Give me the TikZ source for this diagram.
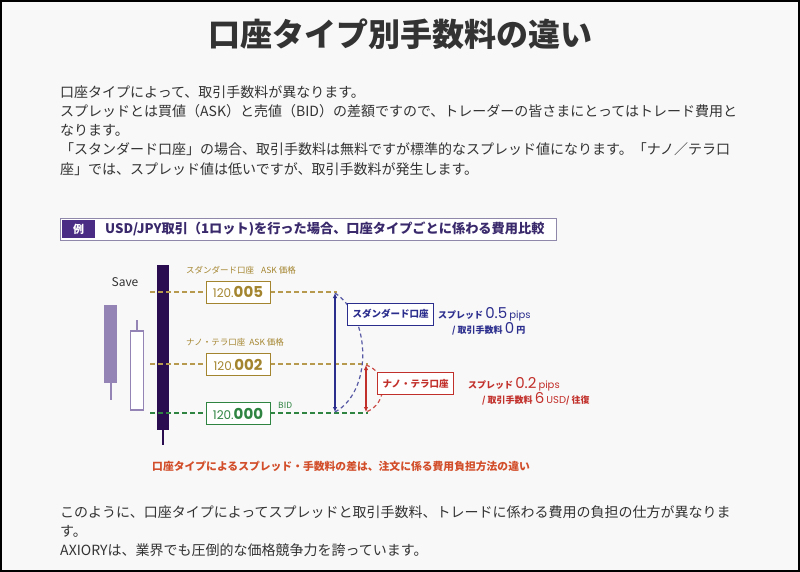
\documentclass[tikz,border=0pt]{standalone}
\usepackage{fontspec}
\setmainfont{Noto Sans CJK JP}
\newfontfamily\numfont{Poppins}
\usetikzlibrary{arrows.meta}
\definecolor{pagebg}{HTML}{F8F8F8}
\definecolor{txt}{HTML}{333333}
\definecolor{hdrbox}{HTML}{4B2C84}
\definecolor{hdrtxt}{HTML}{3A2A6C}
\definecolor{hdrline}{HTML}{8F88AA}
\definecolor{candlel}{HTML}{9483B5}
\definecolor{candled}{HTML}{2A0C50}
\definecolor{askc}{HTML}{A4852F}
\definecolor{askdash}{HTML}{B89A4E}
\definecolor{bidc}{HTML}{2F8442}
\definecolor{stdc}{HTML}{2C2E8E}
\definecolor{nanoc}{HTML}{C2302B}
\definecolor{notec}{HTML}{D24E2A}
\tikzset{
  body/.style={anchor=west, inner sep=0pt, font=\fontsize{14}{16}\selectfont, text=txt},
  lvl/.style={dash pattern=on 5pt off 3pt, line width=1.1pt},
  price/.style={draw, fill=white, line width=1pt, minimum width=64pt, minimum height=22pt,
                inner sep=0pt, font=\numfont\fontsize{15}{15}\selectfont},
  tag/.style={anchor=west, inner sep=0pt, font=\fontsize{8.5}{9}\selectfont},
  acct/.style={draw, fill=white, line width=1pt, minimum height=22pt, inner xsep=5pt,
               font=\bfseries\fontsize{9.5}{10}\selectfont},
  cost/.style={anchor=base west, inner sep=0pt, font=\bfseries\fontsize{9}{10}\selectfont},
  dbl/.style={{Latex[length=5pt,width=4.5pt]}-{Latex[length=5pt,width=4.5pt]}, line width=1.2pt},
  swing/.style={dash pattern=on 4pt off 3pt, line width=1.2pt},
}
\newcommand{\pricetxt}[1]{{\fontsize{12}{12}\selectfont 120.}{\bfseries #1}}
\newcommand{\bignum}[1]{{\numfont\mdseries\fontsize{15}{15}\selectfont #1}}
\newcommand{\smallnum}[1]{{\numfont\mdseries\fontsize{10}{10}\selectfont #1}}

\begin{document}
\begin{tikzpicture}[x=1pt, y=-1pt]
\useasboundingbox (0,0) rectangle (800,572);
\draw[black, line width=1.5pt, fill=pagebg] (1,1) rectangle (799,571);

% ---------------- title and introduction ----------------
\node[font=\bfseries\fontsize{32}{34}\selectfont, text=txt] (title) at (400,34) {口座タイプ別手数料の違い};
\node[body] (intro1) at (60,92) {口座タイプによって、取引手数料が異なります。};
\node[body] (intro2) at (60,111) {スプレッドとは買値（ASK）と売値（BID）の差額ですので、トレーダーの皆さまにとってはトレード費用と};
\node[body] (intro3) at (60,130) {なります。};
\node[body] (intro4) at (60,149) {「スタンダード口座」の場合、取引手数料は無料ですが標準的なスプレッド値になります。「ナノ／テラ口};
\node[body] (intro5) at (60,169) {座」では、スプレッド値は低いですが、取引手数料が発生します。};

% ---------------- example header ----------------
\draw[hdrline, line width=0.8pt, fill=white] (60,218) rectangle (556,240);
\node[fill=hdrbox, text=white, minimum width=33pt, minimum height=18pt, inner sep=0pt,
      font=\bfseries\fontsize{11}{12}\selectfont] (rei) at (78.5,229) {例};
\node[anchor=west, inner sep=0pt, text=hdrtxt, font=\bfseries\fontsize{13.2}{14}\selectfont] (hdr) at (105,229)
  {USD/JPY取引（1ロット)を行った場合、口座タイプごとに係わる費用比較};

% ---------------- candles ----------------
\node[font=\fontsize{12}{12}\selectfont, text=txt] (save) at (125,282) {Save};
\fill[candlel] (104,305) rectangle (117,383);
\draw[candlel, line width=2pt] (110.5,383) -- (110.5,400);
\draw[candlel, line width=1.2pt, fill=white] (130.5,331) rectangle (143.5,410);
\draw[candlel, line width=2pt] (137,320) -- (137,331);
\fill[candled] (157,265) rectangle (169,430);
\draw[candled, line width=2pt] (163,430) -- (163,445);

% ---------------- price levels ----------------
\coordinate (askS0) at (150,292);
\coordinate (askS1) at (337,292);
\coordinate (askN0) at (150,364);
\coordinate (askN1) at (368,364);
\coordinate (bid0) at (150,413);
\coordinate (bid1) at (368,413);
\draw[lvl, askdash] (askS0) -- (askS1);
\draw[lvl, askdash] (askN0) -- (askN1);
\draw[lvl, bidc] (bid0) -- (bid1);

\node[tag, text=askc] (lblS) at (186,270) {スダンダード口座\hspace{7pt}ASK 価格};
\node[tag, text=askc] (lblN) at (186,342) {ナノ・テラ口座\hspace{4pt}ASK 価格};
\node[tag, text=bidc] (lblB) at (278,405) {BID};
\node[price, draw=askc, text=askc] (pS) at (238,292) {\pricetxt{005}};
\node[price, draw=askc, text=askc] (pN) at (238,364.5) {\pricetxt{002}};
\node[price, draw=bidc, text=bidc] (pB) at (238,413.5) {\pricetxt{000}};

% ---------------- spreads ----------------
\coordinate (stdTop) at (335,293);
\coordinate (stdBot) at (335,412);
\coordinate (nanoTop) at (366,365);
\coordinate (nanoBot) at (366,412);
\draw[swing, stdc!80] (stdTop) .. controls (372,318) and (372,392) .. (stdBot);
\draw[swing, nanoc!85] (nanoTop) .. controls (388,372) and (388,404) .. (nanoBot);
\draw[dbl, stdc] (stdTop) -- (stdBot);
\draw[dbl, nanoc] (nanoTop) -- (nanoBot);

\node[acct, draw=stdc, text=stdc, anchor=west] (std) at (347,314) {スダンダード口座};
\node[acct, draw=nanoc, text=nanoc, anchor=west] (nano) at (377,383.5) {ナノ・テラ口座};
\node[cost, text=stdc] (stdSpread) at (438,318) {スプレッド \bignum{0.5} \smallnum{pips}};
\node[cost, text=stdc] (stdFee) at (452,333) {/ 取引手数料 \bignum{0} 円};
\node[cost, text=nanoc] (nanoSpread) at (468,388) {スプレッド \bignum{0.2} \smallnum{pips}};
\node[cost, text=nanoc] (nanoFee) at (482,403) {/ 取引手数料 \bignum{6} \smallnum{USD}/ 往復};

\node[anchor=west, inner sep=0pt, text=notec, font=\bfseries\fontsize{10.8}{11}\selectfont] (note) at (152,466)
  {口座タイプによるスプレッド・手数料の差は、注文に係る費用負担方法の違い};

% ---------------- closing text ----------------
\node[body] (outro1) at (60,512) {このように、口座タイプによってスプレッドと取引手数料、トレードに係わる費用の負担の仕方が異なりま};
\node[body] (outro2) at (60,531) {す。};
\node[body] (outro3) at (60,550) {AXIORYは、業界でも圧倒的な価格競争力を誇っています。};
\end{tikzpicture}
\end{document}
